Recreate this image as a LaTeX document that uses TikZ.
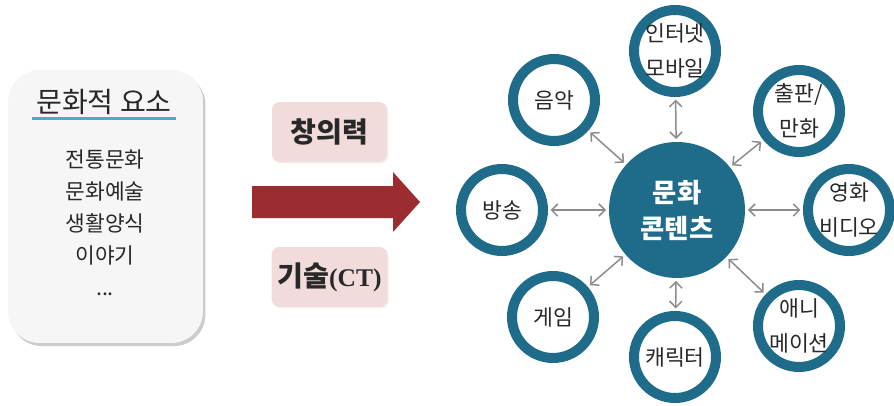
\documentclass[tikz,border=0pt]{standalone}
\usepackage{fontspec}
\setmainfont{Noto Sans CJK KR}
\newfontfamily\latinserif{Liberation Serif}
\usetikzlibrary{shadows,arrows.meta}

\definecolor{ringblue}{RGB}{30,108,138}
\definecolor{flowred}{RGB}{155,45,48}
\definecolor{boxpink}{RGB}{242,220,219}
\definecolor{linkgray}{RGB}{140,140,140}
\definecolor{textgray}{RGB}{40,40,40}
\definecolor{ulblue}{RGB}{75,172,198}

\begin{document}
\begin{tikzpicture} [
    x=0.02cm, y=-0.02cm,
    panel/.style={rectangle,rounded corners=18pt,fill=gray!7,
      minimum width=3.9cm,minimum height=5.46cm,
      drop shadow={opacity=0.4,shadow xshift=1.4pt,shadow yshift=-1.8pt}},
    tag/.style={rectangle,rounded corners=4.5pt,fill=boxpink,text=textgray,
      minimum width=2.3cm,minimum height=1.2cm,
      font=\fontsize{16}{18}\selectfont\bfseries,
      drop shadow={opacity=0.12,shadow xshift=0.8pt,shadow yshift=-0.8pt}},
    ring/.style={circle,draw=ringblue,line width=5.7pt,fill=white,
      minimum size=1.64cm,inner sep=0pt,outer sep=2.85pt,text=textgray,
      align=center,font=\fontsize{12.3}{20}\selectfont},
    core/.style={circle,fill=ringblue,minimum size=2.72cm,inner sep=0pt,
      text=white,align=center,font=\fontsize{15}{20.5}\selectfont\bfseries},
    link/.style={<->,>={Straight Barb[length=3.5pt,width=7pt]},
      draw=linkgray,line width=0.85pt,shorten >=1.5pt,shorten <=1.5pt},
    ]
    \useasboundingbox (0,0) rectangle (894,406);

    % Left box
    \node[panel] (elem) at (105.5,206.5) {};
    \node[text=textgray,font=\fontsize{16}{18}\selectfont,inner sep=2pt] (title) at (104,102) {문화적 요소};
    \draw[ulblue,line width=1.6pt] (title.south west) -- (title.south east);
    \node[text=textgray,align=center,font=\fontsize{12.2}{18.2}\selectfont] (items) at (105,223)
      {전통문화\\문화예술\\생활양식\\이야기\\...};

    % Middle
    \node[tag] (idea) at (329.5,132) {창의력};
    \node[tag] (tech) at (329.5,277) {기술{\latinserif\fontsize{14.5}{18}\selectfont(CT)}};
    \fill[flowred] (252,186) -- (393,186) -- (393,172) -- (420,202)
      -- (393,232) -- (393,218) -- (252,218) -- cycle;

    % Right
    \node[core] (cc) at (677,210) {문화\\콘텐츠};
    \node[ring] (net) at (675,51) {인터넷\\모바일};
    \node[ring] (pub) at (799,111) {출판/\\만화};
    \node[ring] (film) at (849,210) {영화\\비디오};
    \node[ring] (ani) at (799,326) {애니\\메이션};
    \node[ring] (char) at (675,357) {캐릭터};
    \node[ring] (game) at (553,317) {게임};
    \node[ring] (tv) at (502,210) {방송};
    \node[ring] (music) at (554,100) {음악};
    \path [link]
    (cc) edge (net) (cc) edge (pub) (cc) edge (film) (cc) edge (ani)
    (cc) edge (char) (cc) edge (game) (cc) edge (tv) (cc) edge (music);
  \end{tikzpicture}
\end{document}
